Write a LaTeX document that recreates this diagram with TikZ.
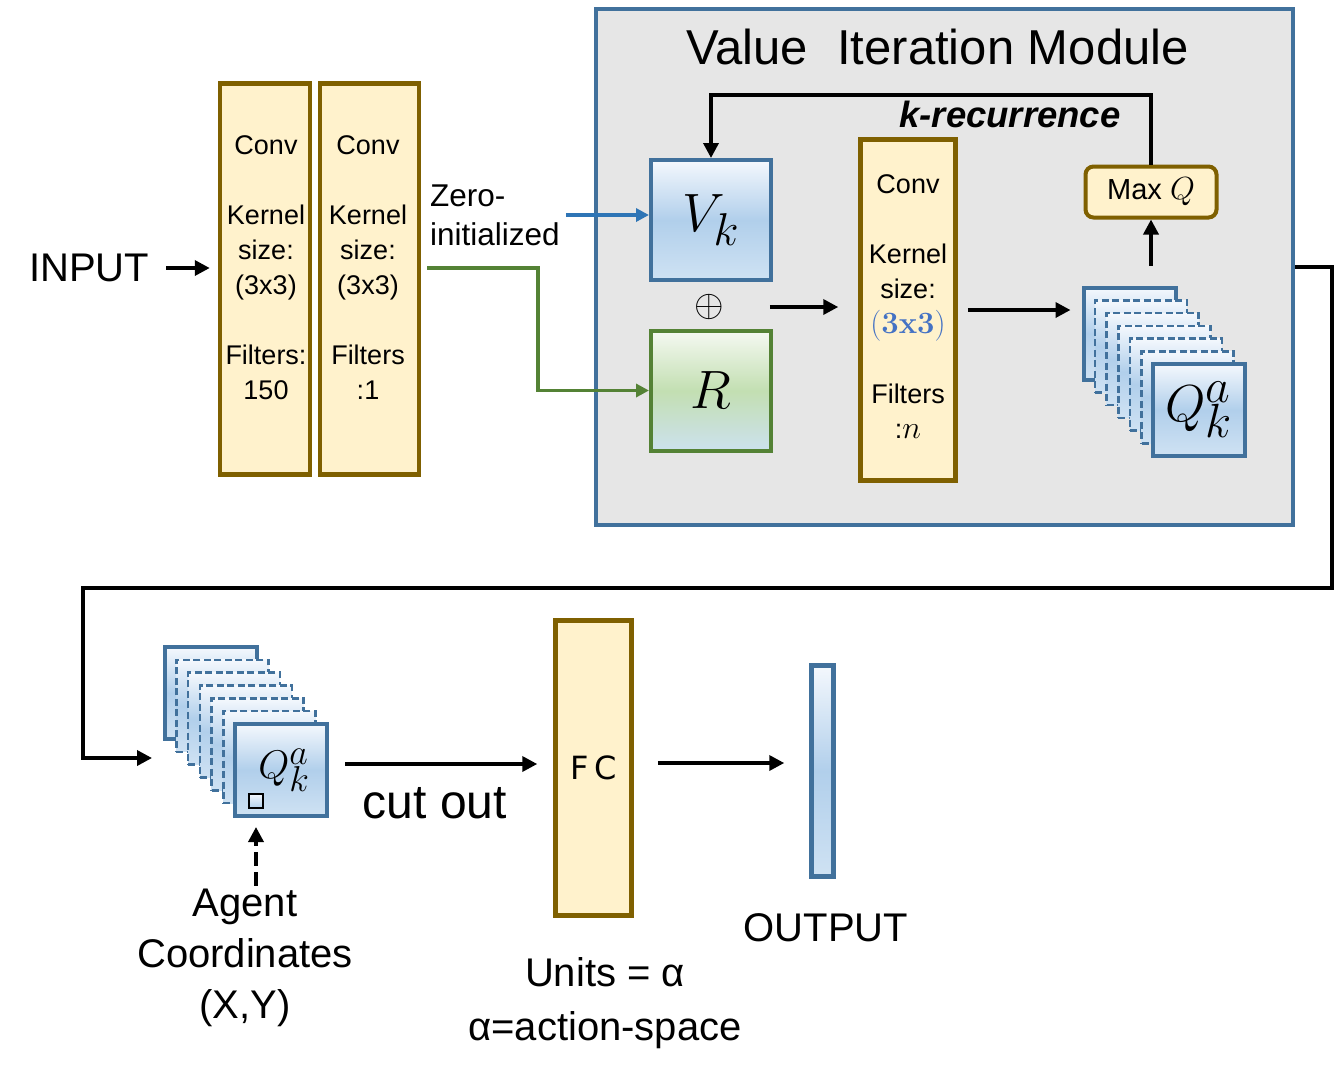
\RequirePackage{fix-cm}
\documentclass[tikz,border=0pt]{standalone}
\usepackage[no-math]{fontspec}
\setmainfont{Liberation Sans}
\newfontfamily\fcfont{DejaVu Sans}
\usepackage{tikz}
\usetikzlibrary{arrows.meta, positioning}
\usepackage{xcolor}

\definecolor{convedge}{HTML}{7F6000}
\definecolor{convfill}{HTML}{FFF2CC}
\definecolor{mapedge}{HTML}{41719C}
\definecolor{maptop}{HTML}{F4F8FD}
\definecolor{mapmid}{HTML}{B1CFEB}
\definecolor{mapbot}{HTML}{CFE2F3}
\definecolor{redge}{HTML}{548235}
\definecolor{rtop}{HTML}{F5F9F2}
\definecolor{rmid}{HTML}{C3DFB2}
\definecolor{rbot}{HTML}{CCE1EE}
\definecolor{modfill}{HTML}{E6E6E6}
\definecolor{initblue}{HTML}{2E75B6}
\definecolor{kernblue}{HTML}{4472C4}

\newcommand{\convsize}{\fontsize{27}{35}\selectfont}
\newcommand{\bigsize}{\fontsize{40}{51}\selectfont}
% math symbol with large sub/superscripts: #1 size, #2 script size
\newcommand{\mathat}[2]{\mbox{\fontsize{#1}{#1}\selectfont$#2$}}

\begin{document}
\begin{tikzpicture}[
    x=1pt, y=-1pt,
    convbox/.style={draw=convedge, fill=convfill, line width=4.5pt, inner sep=0pt},
    mapbox/.style={draw=mapedge, line width=4pt, top color=maptop, bottom color=mapbot, middle color=mapmid, inner sep=0pt},
    qlayer/.style={mapbox, minimum size=92pt},
    qdash/.style={qlayer, line width=2.5pt, dash pattern=on 7pt off 3.5pt},
    txt/.style={font=\convsize, align=center, inner sep=0pt},
    bigtxt/.style={font=\bigsize, align=center, inner sep=0pt},
    arr/.style={-{Triangle[length=15pt,width=15pt]}, line width=3.5pt},
    bluearr/.style={-{Triangle[length=13pt,width=13pt]}, line width=3.5pt, draw=initblue, color=initblue},
    greenarr/.style={-{Triangle[length=13pt,width=13pt]}, line width=3.5pt, draw=redge, color=redge},
    dasharr/.style={arr, dash pattern=on 14pt off 6pt}
]
    \useasboundingbox (0,0) rectangle (1335,1080);

    % Input and first two convolutions
    \node[bigtxt] (input) at (89,268) {INPUT};
    \node[convbox, minimum width=90pt, minimum height=391pt] (conv1) at (265,279) {};
    \node[convbox, minimum width=99pt, minimum height=391pt] (conv2) at (369.5,279) {};
    \node[txt] (conv1txt) at (266,267.5) {Conv\\[35pt]Kernel\\size:\\(3x3)\\[35pt]Filters:\\150};
    \node[txt] (conv2txt) at (368,268) {Conv\\[35pt]Kernel\\size:\\(3x3)\\[35pt]Filters\\:1};
    \node[font=\fontsize{31.5}{39}\selectfont, align=left, inner sep=0pt, anchor=west] (zero) at (430,215) {Zero-\\initialized};

    % Value iteration module
    \node[draw=mapedge, fill=modfill, line width=4pt, minimum width=697pt, minimum height=516pt] (module) at (944.5,267) {};
    \node[font=\fontsize{49}{49}\selectfont, inner sep=0pt] (title) at (937.5,47) {Value\hspace{0.6em}Iteration Module};
    \node[mapbox, minimum size=120pt] (vk) at (711,220) {\fontsize{54}{54}\selectfont$V_{\mathat{46}{k}}$};
    \node[draw=redge, line width=4pt, top color=rtop, bottom color=rbot, middle color=rmid, inner sep=0pt, minimum size=120pt] (r) at (711,390.5) {\fontsize{54}{54}\selectfont$R$};
    \node[inner sep=0pt, font=\fontsize{38}{38}\selectfont] (oplus) at (709,307) {$\oplus$};
    \node[convbox, minimum width=95pt, minimum height=341pt] (conv3) at (908,310) {};
    \node[txt] (conv3txt) at (908,307) {Conv\\[35pt]Kernel\\size:\\{\color{kernblue}\mathat{31}{\mathbf{(3x3)}}}\\[35pt]Filters\\:\mathat{32}{n}};
    \node[convbox, line width=4pt, rounded corners=8pt, minimum width=131pt, minimum height=51pt, font=\fontsize{29}{29}\selectfont] (maxq) at (1151,192) {Max \mathat{32}{Q}};
    \node[font=\fontsize{36.5}{36.5}\selectfont\bfseries\itshape, inner sep=0pt] (krec) at (1010,114) {k-recurrence};

    % Q stack inside the module
    \node[qlayer] (qback) at (1129.5,333.5) {};
    \foreach \i in {1,...,5}
        \node[qdash] (qd\i) at ({1129.5+11.6*\i},{333.5+12.75*\i}) {};
    \node[qlayer] (qfront) at (1199,410) {\fontsize{52}{52}\selectfont$Q^{\mathat{48}{a}}_{\mathat{48}{k}}$};

    % Q stack below
    \node[qlayer] (lowback) at (210.5,693) {};
    \foreach \i in {1,...,5}
        \node[qdash] (ld\i) at ({210.5+11.75*\i},{693+12.83*\i}) {};
    \node[qlayer] (lowfront) at (281,770) {\hspace{6pt}\fontsize{40}{40}\selectfont$Q^{\mathat{36}{a}}_{\mathat{36}{k}}$};
    \node[draw=black, line width=2.5pt, top color=maptop, bottom color=mapmid, minimum size=14pt, inner sep=0pt] (cell) at (256,801) {};
    \node[bigtxt, font=\fontsize{40}{51}\selectfont] (agent) at (245,958) {Agent\\Coordinates\\(X,Y)};
    \node[inner sep=0pt, font=\fontsize{48}{48}\selectfont] (cutout) at (435,803) {cut out};

    % Fully connected and output
    \node[convbox, minimum width=76pt, minimum height=295pt] (fc) at (593.5,768) {\fcfont\fontsize{32}{32}\selectfont F\,C};
    \node[mapbox, line width=4.5pt, minimum width=22pt, minimum height=211pt] (outbar) at (822.5,771) {};
    \node[bigtxt] (output) at (826,928) {OUTPUT};
    \node[bigtxt, font=\fontsize{40}{54}\selectfont] (units) at (605,1003) {Units = α\\α=action-space};

    % Connections
    \coordinate (gbend) at (538,268);
    \coordinate (looptop) at (1152,95);
    \coordinate (c1) at (1332,588);
    \coordinate (c2) at (83,588);
    \coordinate (qin) at (152,758);
    \draw[arr, shorten <=17pt, shorten >=8pt] (input) -- (input -| conv1.west);
    \draw[bluearr, shorten <=6pt] (zero.east) -- (zero.east -| vk.west);
    \draw[greenarr] ([xshift=6pt]conv2.east |- gbend) -- (gbend) |- (r.west);
    \draw[arr] (maxq.north) -- (maxq.north |- looptop) -| (vk.north);
    \draw[arr, shorten <=46pt, shorten >=20pt] (oplus) -- (oplus -| conv3.west);
    \draw[arr, shorten <=10pt, shorten >=11pt] (conv3.east) -- (conv3.east -| qback.west);
    \draw[arr, shorten <=20pt] (maxq.south |- qback.north) -- (maxq.south);
    \draw[arr, line cap=butt] (module.east) -| (c1) -- (c2) |- (qin);
    \draw[dasharr, shorten <=3pt, shorten >=9pt] (agent.north -| cell) -- (cell |- lowfront.south);
    \draw[arr, shorten <=16pt, shorten >=16pt] ([yshift=6pt]lowfront.east) -- ([yshift=6pt]lowfront.east -| fc.west);
    \draw[arr, shorten <=24pt, shorten >=25pt] ([yshift=5pt]fc.east) -- ([yshift=5pt]fc.east -| outbar.west);
\end{tikzpicture}
\end{document}
